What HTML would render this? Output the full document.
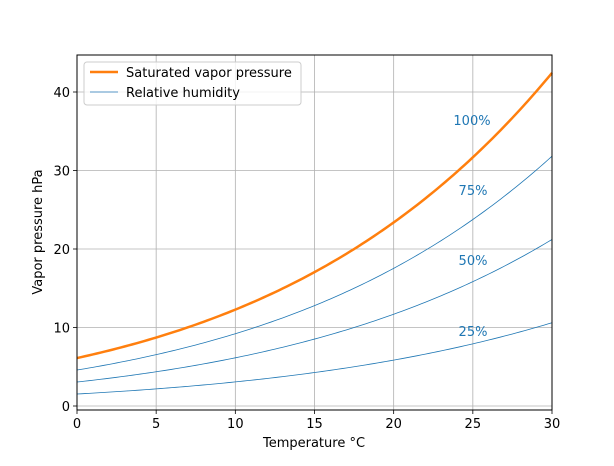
<!DOCTYPE html>
<html><head><meta charset="utf-8"><style>
body{margin:0;background:#fff;}
text{font-family:"DejaVu Sans","Liberation Sans",sans-serif;font-size:13px;fill:#000;}
</style></head><body>
<svg id="s" width="614" height="461" xmlns="http://www.w3.org/2000/svg">
<rect width="614" height="461" fill="#fff"/>
<g id="grid" stroke="#b0b0b0" stroke-width="0.8"></g>
<g id="curves" fill="none"></g>
<rect x="77" y="55" width="475" height="355" fill="none" stroke="#000" stroke-width="1"/>
<g id="ticks" stroke="#000" stroke-width="0.8"></g>
<g id="labels"></g>
<text x="472" y="125" text-anchor="middle" style="fill:#1f77b4">100%</text>
<text x="473" y="195" text-anchor="middle" style="fill:#1f77b4">75%</text>
<text x="473" y="265" text-anchor="middle" style="fill:#1f77b4">50%</text>
<text x="473" y="336" text-anchor="middle" style="fill:#1f77b4">25%</text>
<text x="314" y="447" text-anchor="middle">Temperature °C</text>
<text transform="translate(42,232) rotate(-90)" text-anchor="middle">Vapor pressure hPa</text>
<rect x="84" y="62" width="217" height="43" rx="3" fill="#fff" fill-opacity="0.8" stroke="#ccc"/>
<line x1="90" y1="72" x2="118" y2="72" stroke="#ff7f0e" stroke-width="2.5"/>
<text x="126" y="77">Saturated vapor pressure</text>
<line x1="90" y1="92" x2="118" y2="92" stroke="#1f77b4" stroke-width="0.8"/>
<text x="126" y="97">Relative humidity</text>
</svg>
<script>
var NS="http://www.w3.org/2000/svg";
function X(t){return 77+t*475/30;}
function Y(v){return 406-v*7.85;}
function el(p,n,a){var e=document.createElementNS(NS,n);for(var k in a)e.setAttribute(k,a[k]);p.appendChild(e);return e;}
var g=document.getElementById('grid'),tk=document.getElementById('ticks'),lb=document.getElementById('labels'),cv=document.getElementById('curves');
for(var t=0;t<=30;t+=5){var x=X(t);el(g,'line',{x1:x,y1:55,x2:x,y2:410});el(tk,'line',{x1:x,y1:410,x2:x,y2:414});var tx=el(lb,'text',{x:x,y:428,'text-anchor':'middle'});tx.textContent=t;}
for(var v=0;v<=40;v+=10){var y=Y(v);el(g,'line',{x1:77,y1:y,x2:552,y2:y});el(tk,'line',{x1:73,y1:y,x2:77,y2:y});var ty=el(lb,'text',{x:70,y:y+5,'text-anchor':'end'});ty.textContent=v;}
function es(T){return 6.1078*Math.exp(17.27*T/(T+237.3));}
[1,0.75,0.5,0.25].forEach(function(f){var d='';for(var i=0;i<=120;i++){var T=i*0.25;d+=(i?'L':'M')+X(T).toFixed(2)+','+Y(es(T)*f).toFixed(2);}
el(cv,'path',{d:d,stroke:f==1?'#ff7f0e':'#1f77b4','stroke-width':f==1?2.5:0.8});});
</script>
</body></html>
